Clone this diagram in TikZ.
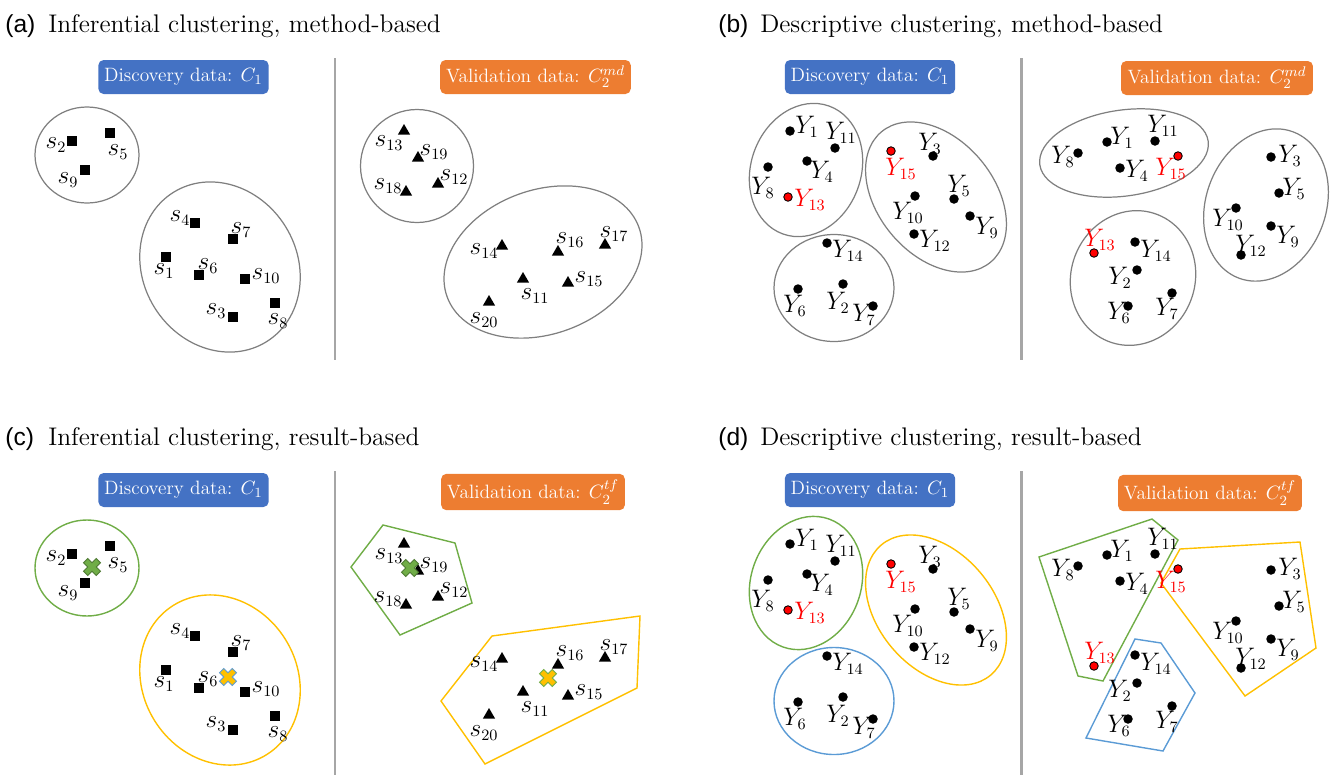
\documentclass[tikz,border=0pt]{standalone}
\usepackage{fontspec}
\usepackage{amsmath}
\usepackage{xcolor}
\usepackage{tikz}
\usetikzlibrary{shapes,positioning}
\newfontfamily\tagfont{Liberation Sans}

\definecolor{discblue}{HTML}{4472C4}
\definecolor{valorange}{HTML}{ED7D31}
\definecolor{clgreen}{HTML}{70AD47}
\definecolor{clyellow}{HTML}{FFC000}
\definecolor{clblue}{HTML}{5B9BD5}
\definecolor{clgray}{HTML}{7F7F7F}
\definecolor{divgray}{HTML}{A6A6A6}

% centroid cross: position, fill, outline
\newcommand{\centroid}[3]{%
  \begin{scope}[shift={#1}, rotate=45]
    \filldraw[fill=#2, draw=#3, line width=0.5pt] (3,9) -- (3,3) -- (9,3) -- (9,-3) -- (3,-3) -- (3,-9)
      -- (-3,-9) -- (-3,-3) -- (-9,-3) -- (-9,3) -- (-3,3) -- (-3,9) -- cycle;
  \end{scope}}

% inferential, discovery samples
\newcommand{\squarepts}{%
  \node[sq] (s2) at (72,141) {};   \node[lbl] (s2l) at (56,145) {$s_2$};
  \node[sq] (s5) at (110,133) {};  \node[lbl] (s5l) at (118,152) {$s_5$};
  \node[sq] (s9) at (85,170) {};   \node[lbl] (s9l) at (68,180) {$s_9$};
  \node[sq] (s4) at (195,223) {};  \node[lbl] (s4l) at (180,218) {$s_4$};
  \node[sq] (s7) at (233,239) {};  \node[lbl] (s7l) at (241,230) {$s_7$};
  \node[sq] (s1) at (166,257) {};  \node[lbl] (s1l) at (164,271) {$s_1$};
  \node[sq] (s6) at (199,275) {};  \node[lbl] (s6l) at (208,266) {$s_6$};
  \node[sq] (s10) at (245,279) {}; \node[lbl] (s10l) at (266,276) {$s_{10}$};
  \node[sq] (s3) at (233,317) {};  \node[lbl] (s3l) at (216,311) {$s_3$};
  \node[sq] (s8) at (275,303) {};  \node[lbl] (s8l) at (278,321) {$s_8$};
}

% inferential, validation samples
\newcommand{\trianglepts}{%
  \node[tri] (s13) at (404,131) {}; \node[lbl] (s13l) at (389,143) {$s_{13}$};
  \node[tri] (s19) at (418,158) {}; \node[lbl] (s19l) at (434,152) {$s_{19}$};
  \node[tri] (s18) at (406,192) {}; \node[lbl] (s18l) at (388,186) {$s_{18}$};
  \node[tri] (s12) at (438,184) {}; \node[lbl] (s12l) at (454,177) {$s_{12}$};
  \node[tri] (s14) at (502,246) {}; \node[lbl] (s14l) at (484,251) {$s_{14}$};
  \node[tri] (s16) at (558,252) {}; \node[lbl] (s16l) at (570,240) {$s_{16}$};
  \node[tri] (s17) at (605,245) {}; \node[lbl] (s17l) at (614,234) {$s_{17}$};
  \node[tri] (s11) at (523,279) {}; \node[lbl] (s11l) at (535,296) {$s_{11}$};
  \node[tri] (s15) at (568,283) {}; \node[lbl] (s15l) at (589,279) {$s_{15}$};
  \node[tri] (s20) at (489,302) {}; \node[lbl] (s20l) at (484,320) {$s_{20}$};
}

% descriptive, discovery variables
\newcommand{\leftvars}{%
  \node[dot] (y1) at (790,131) {};    \node[lbl] (y1l) at (807,127) {$Y_1$};
  \node[dot] (y11) at (835,148) {};   \node[lbl] (y11l) at (841,133) {$Y_{11}$};
  \node[dot] (y4) at (807,161) {};    \node[lbl] (y4l) at (822,172) {$Y_4$};
  \node[dot] (y8) at (768,167) {};    \node[lbl] (y8l) at (763,188) {$Y_8$};
  \node[reddot] (y13) at (788,197) {}; \node[redlbl] (y13l) at (810,200) {$Y_{13}$};
  \node[reddot] (y15) at (891,151) {}; \node[redlbl] (y15l) at (901,169) {$Y_{15}$};
  \node[dot] (y3) at (933,156) {};    \node[lbl] (y3l) at (930,144) {$Y_3$};
  \node[dot] (y5) at (954,199) {};    \node[lbl] (y5l) at (959,186) {$Y_5$};
  \node[dot] (y10) at (915,196) {};   \node[lbl] (y10l) at (908,213) {$Y_{10}$};
  \node[dot] (y9) at (970,216) {};    \node[lbl] (y9l) at (987,228) {$Y_9$};
  \node[dot] (y12) at (914,234) {};   \node[lbl] (y12l) at (935,241) {$Y_{12}$};
  \node[dot] (y14) at (827,243) {};   \node[lbl] (y14l) at (848,251) {$Y_{14}$};
  \node[dot] (y6) at (798,289) {};    \node[lbl] (y6l) at (795,306) {$Y_6$};
  \node[dot] (y2) at (843,284) {};    \node[lbl] (y2l) at (838,303) {$Y_2$};
  \node[dot] (y7) at (873,306) {};    \node[lbl] (y7l) at (864,315) {$Y_7$};
}

% descriptive, validation variables
\newcommand{\rightvars}{%
  \node[dot] (y8) at (1078,153) {};   \node[lbl] (y8l) at (1063,157) {$Y_8$};
  \node[dot] (y1) at (1107,142) {};   \node[lbl] (y1l) at (1122,138) {$Y_1$};
  \node[dot] (y11) at (1155,141) {};  \node[lbl] (y11l) at (1163,126) {$Y_{11}$};
  \node[dot] (y4) at (1120,168) {};   \node[lbl] (y4l) at (1137,171) {$Y_4$};
  \node[reddot] (y15) at (1178,156) {}; \node[redlbl] (y15l) at (1171,169) {$Y_{15}$};
  \node[dot] (y3) at (1271,157) {};   \node[lbl] (y3l) at (1290,156) {$Y_3$};
  \node[dot] (y5) at (1279,193) {};   \node[lbl] (y5l) at (1294,189) {$Y_5$};
  \node[dot] (y10) at (1236,208) {};  \node[lbl] (y10l) at (1228,220) {$Y_{10}$};
  \node[dot] (y9) at (1271,226) {};   \node[lbl] (y9l) at (1288,237) {$Y_9$};
  \node[dot] (y12) at (1241,255) {};  \node[lbl] (y12l) at (1251,246) {$Y_{12}$};
  \node[reddot] (y13) at (1094,253) {}; \node[redlbl] (y13l) at (1100,240) {$Y_{13}$};
  \node[dot] (y14) at (1135,242) {};  \node[lbl] (y14l) at (1156,251) {$Y_{14}$};
  \node[dot] (y2) at (1137,270) {};   \node[lbl] (y2l) at (1120,278) {$Y_2$};
  \node[dot] (y7) at (1172,293) {};   \node[lbl] (y7l) at (1167,309) {$Y_7$};
  \node[dot] (y6) at (1128,306) {};   \node[lbl] (y6l) at (1119,313) {$Y_6$};
}

\begin{document}
\begin{tikzpicture}[
    x=0.02cm, y=-0.02cm,
    sq/.style={fill=black, inner sep=0pt, minimum size=0.2cm},
    tri/.style={regular polygon, regular polygon sides=3, fill=black,
                inner sep=0pt, minimum size=0.28cm},
    dot/.style={circle, fill=black, inner sep=0pt, minimum size=0.19cm},
    reddot/.style={circle, fill=red, draw=black, line width=0.5pt,
                   inner sep=0pt, minimum size=0.17cm},
    lbl/.style={inner sep=0pt, font=\fontsize{13.5}{15}\selectfont},
    redlbl/.style={lbl, text=red},
    disc/.style={fill=discblue, rounded corners=3pt, text=white,
                 minimum height=0.68cm, font=\fontsize{11}{13}\selectfont},
    valid/.style={disc, fill=valorange},
    title/.style={anchor=base west, inner sep=0pt, font=\fontsize{14.5}{16}\selectfont},
    tag/.style={anchor=base west, inner sep=0pt, font=\tagfont\fontsize{14}{16}\selectfont},
    divider/.style={divgray, line width=1.7pt},
    cluster/.style={clgray, line width=0.7pt},
    group/.style={line width=0.8pt}
]
\useasboundingbox (0,0) rectangle (1333,775);

% Titles
\node[tag] (taga) at (5,32) {(a)};
\node[title] (titlea) at (48,32) {Inferential clustering, method-based};
\node[tag] (tagb) at (718,32) {(b)};
\node[title] (titleb) at (760,32) {Descriptive clustering, method-based};
\node[tag] (tagc) at (5,445) {(c)};
\node[title] (titlec) at (48,445) {Inferential clustering, result-based};
\node[tag] (tagd) at (718,445) {(d)};
\node[title] (titled) at (760,445) {Descriptive clustering, result-based};

% Dividers
\draw[divider] (335,58) -- (335,360);
\draw[divider] (1021,58) -- (1021,360);
\draw[divider] (335,471) -- (335,775);
\draw[divider] (1021,471) -- (1021,775);

% Data boxes
\node[disc, minimum width=3.34cm] (disca) at (183.5,77) {Discovery data: $C_1$};
\node[valid, minimum width=3.7cm] (valida) at (535.5,77) {Validation data: $C_2^{md}$};
\node[disc, minimum width=3.32cm] (discb) at (870,77) {Discovery data: $C_1$};
\node[valid, minimum width=3.84cm] (validb) at (1217,78) {Validation data: $C_2^{md}$};
\node[disc, minimum width=3.34cm] (discc) at (183.5,490) {Discovery data: $C_1$};
\node[valid, minimum width=3.6cm] (validc) at (533,492) {Validation data: $C_2^{tf}$};
\node[disc, minimum width=3.32cm] (discd) at (870,490) {Discovery data: $C_1$};
\node[valid, minimum width=3.54cm] (validd) at (1210,493) {Validation data: $C_2^{tf}$};

% (a) method-based, inferential
\draw[cluster] (87,155) ellipse (52 and 48);
\draw[cluster, rotate around={-58:(220,267)}] (220,267) ellipse (88 and 77);
\draw[cluster] (417,166) circle (56.5);
\draw[cluster, rotate around={20:(543,262)}] (543,262) ellipse (102 and 72);
\squarepts
\trianglepts

% (b) method-based, descriptive
\draw[cluster, rotate around={70:(806,170)}] (806,170) ellipse (68 and 55);
\draw[cluster, rotate around={-50:(936,197)}] (936,197) ellipse (85 and 58);
\draw[cluster] (834,288) ellipse (60 and 53.5);
\draw[cluster, rotate around={8:(1124,153)}] (1124,153) ellipse (85 and 43);
\draw[cluster, rotate around={70:(1266,205)}] (1266,205) ellipse (78 and 60);
\draw[cluster, rotate around={70:(1133,278)}] (1133,278) ellipse (68 and 62);
\leftvars
\rightvars

% (c) result-based, inferential
\draw[group, clgreen] (87,568) ellipse (52 and 48);
\draw[group, clyellow, rotate around={-58:(220,680)}] (220,680) ellipse (88 and 77);
\draw[group, clgreen] (383,525) -- (455,543) -- (472,603) -- (400,635) -- (351,567) -- cycle;
\draw[group, clyellow] (492,636) -- (640,616) -- (637,688) -- (485,764) -- (441,701) -- cycle;
\begin{scope}[shift={(0,413)}, name prefix=c-]
  \squarepts
  \trianglepts
\end{scope}
\centroid{(92,567)}{clgreen}{clgreen!70!black}
\centroid{(228,677)}{clyellow}{clblue}
\centroid{(410,568)}{clgreen}{clgreen!70!black}
\centroid{(548,678)}{clyellow}{clgreen}

% (d) result-based, descriptive
\draw[group, clgreen, rotate around={70:(806,583)}] (806,583) ellipse (68 and 55);
\draw[group, clyellow, rotate around={-50:(936,610)}] (936,610) ellipse (85 and 58);
\draw[group, clblue] (834,701) ellipse (60 and 53.5);
\draw[group, clgreen] (1039,557) -- (1152,519) -- (1178,540) -- (1103,681) -- (1078,676) -- cycle;
\draw[group, clyellow] (1180,549) -- (1300,542) -- (1316,648) -- (1245,696) -- (1161,583) -- cycle;
\draw[group, clblue] (1135,639) -- (1161,643) -- (1195,693) -- (1163,751) -- (1086,738) -- cycle;
\begin{scope}[shift={(0,413)}, name prefix=d-]
  \leftvars
  \rightvars
\end{scope}

\end{tikzpicture}
\end{document}
